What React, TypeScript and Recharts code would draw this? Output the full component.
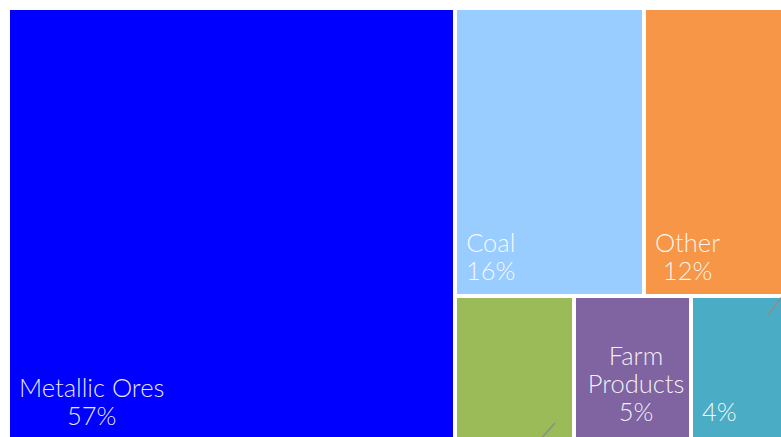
import { Treemap } from "recharts";

const names = ["Metallic Ores", "Coal", "Other", "Nonmetallic Minerals", "Farm Products", "Chemicals"];
const shares = [57.49, 16.25, 12.11, 5.08, 5.0, 4.07];
const colors = ["#0000FF", "#99CCFF", "#F79646", "#9BBB59", "#8064A2", "#4BACC6"];
// these two carry their names outside the plot, on a leader line
const outsideNames = ["Nonmetallic Minerals", "Chemicals"];
const outsidePct = ["Nonmetallic Minerals"];

const data = names.map((name, i) => ({ name, value: shares[i] }));
const total = shares.reduce((a, b) => a + b, 0);

function Tile(props: any) {
  const { x, y, width, height, depth, name, value, root } = props;
  if (depth !== 1) return null;
  const color = colors[names.indexOf(name)];
  const pct = Math.round((value / total) * 100) + "%";
  const showName = !outsideNames.includes(name);
  const showPct = !outsidePct.includes(name);
  const pb = width > 300 ? 10 : y < 50 ? 12 : 14;

  let leader = null;
  if (outsideNames.includes(name)) {
    const atRight = root && x + width >= root.width - 1;
    leader = atRight ? (
      <line x1={x + width - 17} y1={y + 19} x2={x + width + 2} y2={y - 6} stroke="#8c8c8c" strokeWidth={1.5} />
    ) : (
      <line x1={x + width - 19} y1={y + height - 16} x2={x + width - 36} y2={y + height + 3} stroke="#8c8c8c" strokeWidth={1.5} />
    );
  }

  return (
    <g>
      <rect x={x} y={y} width={width} height={height} fill={color} stroke="#fff" strokeWidth={4} />
      {leader}
      {(showName || showPct) && (
        <foreignObject x={x} y={y} width={width} height={height}>
          <div
            style={{
              width: "100%",
              height: "100%",
              boxSizing: "border-box",
              display: "flex",
              alignItems: "flex-end",
              padding: `0 4px ${pb}px 11px`,
              fontFamily: "Lato, sans-serif",
              fontWeight: 300,
              fontSize: 25.5,
              lineHeight: "28px",
              color: "rgba(255,255,255,0.92)",
            }}
          >
            <div style={{ textAlign: "center" }}>
              {showName && <div>{name}</div>}
              {showPct && <div>{pct}</div>}
            </div>
          </div>
        </foreignObject>
      )}
    </g>
  );
}

export default function App() {
  return (
    <div style={{ position: "absolute", left: 0, top: 0, width: 781, height: 437, overflow: "hidden", background: "#fff" }}>
      <div style={{ position: "absolute", left: 8, top: 8 }}>
        <Treemap
          width={777}
          height={431}
          data={data}
          dataKey="value"
          nameKey="name"
          aspectRatio={1.3}
          isAnimationActive={false}
          content={<Tile />}
        />
      </div>
    </div>
  );
}
